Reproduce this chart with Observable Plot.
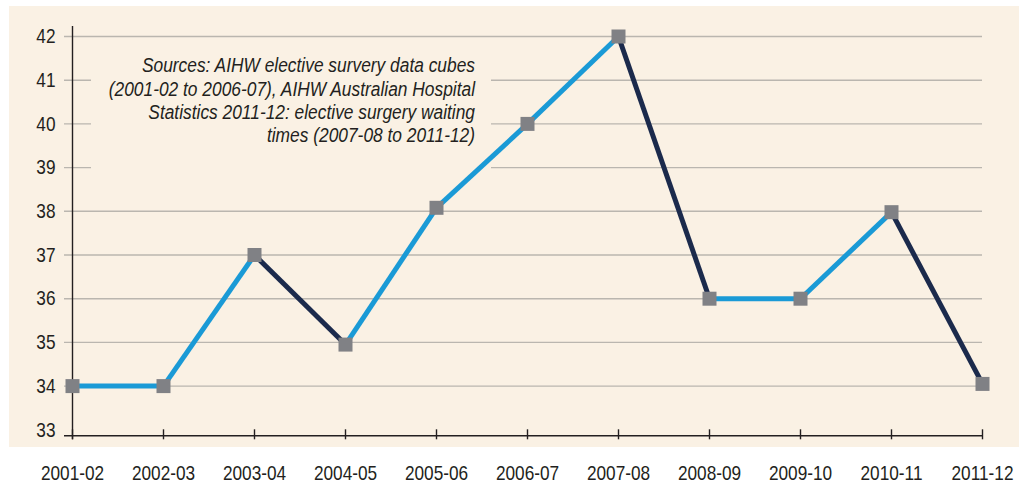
<!DOCTYPE html>
<html><head><meta charset="utf-8">
<script src="https://cdn.jsdelivr.net/npm/d3@7"></script>
<script src="https://cdn.jsdelivr.net/npm/@observablehq/plot@0.6"></script>
<style>body{margin:0;background:#fff;} svg{display:block}</style>
</head><body><div id="chart"></div>
<script>
const years = ["2001-02","2002-03","2003-04","2004-05","2005-06","2006-07","2007-08","2008-09","2009-10","2010-11","2011-12"];
const values = [34, 34, 37, 34.95, 38.08, 40, 42, 36, 36, 37.98, 34.05];
const yTicks = [33, 34, 35, 36, 37, 38, 39, 40, 41, 42];
const gridTicks = [34, 35, 36, 37, 38, 39, 40, 41, 42];
const sourceLines = [
  "Sources: AIHW elective survery data cubes",
  "(2001-02 to 2006-07), AIHW Australian Hospital",
  "Statistics 2011-12: elective surgery waiting",
  "times (2007-08 to 2011-12)"
];

const points = years.map((year, i) => ({year, value: values[i]}));
const segments = d3.pairs(points).map(([a, b]) => ({
  x1: a.year, y1: a.value, x2: b.year, y2: b.value,
  dir: b.value < a.value ? "down" : "up"
}));

const FONT = '"Liberation Sans Narrow", "Arial Narrow", "Liberation Sans", Arial, sans-serif';
const W = 1019, H = 488;
const BG = "#faf1e4";
const INK = "#231f20";
const GRID = "#bab6af";
const BLUE = "#1a9ad6";
const NAVY = "#1b2a4c";
const first = years[0], last = years[years.length - 1];

const background = () => d3.create("svg:rect")
  .attr("x", 9).attr("y", 6).attr("width", W - 9).attr("height", 441)
  .attr("fill", BG).node();

const captionMarks = sourceLines.map((line, i) =>
  Plot.text([line], {x: () => years[4], y: () => 42, dx: 38.5, dy: 22 + i * 23.3,
    text: d => d, textAnchor: "end", lineAnchor: "top", fontSize: 19.5,
    fontStyle: "italic", fill: INK}));

const chart = Plot.plot({
  width: W, height: H,
  marginLeft: 71, marginRight: 36.5, marginTop: 36, marginBottom: 58.7,
  style: {background: "#fff", fontFamily: FONT, color: INK, overflow: "visible"},
  x: {type: "point", domain: years, padding: 0},
  y: {domain: [33, 42]},
  marks: [
    background,
    Plot.ruleY(gridTicks, {x1: () => first, x2: () => last, insetLeft: -8, stroke: GRID, strokeWidth: 1.4}),
    Plot.ruleY([33], {x1: () => first, x2: () => last, insetLeft: -8, dy: 6, stroke: INK, strokeWidth: 1.4}),
    Plot.ruleX([first], {insetTop: -10, insetBottom: -10, stroke: INK, strokeWidth: 1.4}),
    Plot.axisY({ticks: yTicks, tickSize: 0, tickPadding: 16, fontSize: 21, fill: INK, label: null}),
    Plot.axisX({tickSize: 10, tickPadding: 25, fontSize: 21, fill: INK, stroke: INK, strokeWidth: 1.4, label: null}),
    Plot.link(segments, {x1: "x1", y1: "y1", x2: "x2", y2: "y2",
      stroke: d => d.dir === "down" ? NAVY : BLUE, strokeWidth: 5}),
    Plot.dot(points, {x: "year", y: "value", symbol: "square", r: 7.9, fill: "#808185", stroke: null}),
    ...captionMarks
  ]
});
document.getElementById("chart").appendChild(chart);

// beige panel behind the source note, masking the gridlines there (placed just under the data line)
const linkGroup = chart.querySelector('g[aria-label="link"]');
if (linkGroup) {
  const box = d3.create("svg:rect")
    .attr("x", 91).attr("y", 50).attr("width", 400).attr("height", 125)
    .attr("fill", BG).node();
  linkGroup.parentNode.insertBefore(box, linkGroup);
}

// condense the glyphs to mimic the narrow typeface of the original
chart.querySelectorAll("text").forEach(t => {
  const g = t.closest("g");
  const isCaption = (g && g.getAttribute("font-style") === "italic") || t.getAttribute("font-style") === "italic";
  const len = t.getComputedTextLength();
  if (len > 0) {
    t.setAttribute("textLength", (len * (isCaption ? 0.89 : 0.82)).toFixed(2));
    t.setAttribute("lengthAdjust", "spacingAndGlyphs");
  }
});
</script>
</body></html>
